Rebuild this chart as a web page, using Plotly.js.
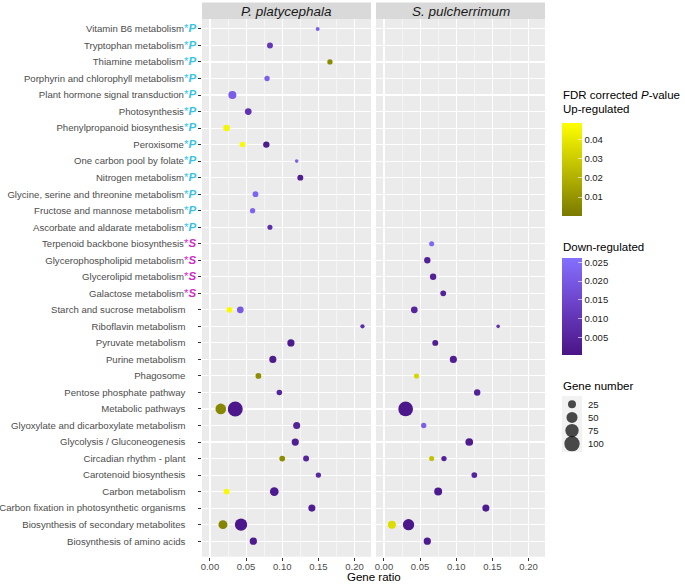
<!DOCTYPE html>
<html>
<head>
<meta charset="utf-8">
<script src="https://cdn.plot.ly/plotly-3.0.1.min.js"></script>
<style>html,body{margin:0;padding:0;background:#fff;}#chart{width:685px;height:584px;}</style>
</head>
<body>
<div id="chart"></div>
<script>
// Categories, top to bottom as drawn
const categories = [
  'Vitamin B6 metabolism','Tryptophan metabolism','Thiamine metabolism',
  'Porphyrin and chlorophyll metabolism','Plant hormone signal transduction',
  'Photosynthesis','Phenylpropanoid biosynthesis','Peroxisome',
  'One carbon pool by folate','Nitrogen metabolism',
  'Glycine, serine and threonine metabolism','Fructose and mannose metabolism',
  'Ascorbate and aldarate metabolism','Terpenoid backbone biosynthesis',
  'Glycerophospholipid metabolism','Glycerolipid metabolism','Galactose metabolism',
  'Starch and sucrose metabolism','Riboflavin metabolism','Pyruvate metabolism',
  'Purine metabolism','Phagosome','Pentose phosphate pathway','Metabolic pathways',
  'Glyoxylate and dicarboxylate metabolism','Glycolysis / Gluconeogenesis',
  'Circadian rhythm - plant','Carotenoid biosynthesis','Carbon metabolism',
  'Carbon fixation in photosynthetic organisms',
  'Biosynthesis of secondary metabolites','Biosynthesis of amino acids'
];
const categoryTag = ['P','P','P','P','P','P','P','P','P','P','P','P','P','S','S','S','S',
  '','','','','','','','','','','','','','',''];

const panelTitles = ['P. platycephala','S. pulcherrimum'];
const xTickVals = [0, 0.05, 0.10, 0.15, 0.20];
const xTickText = ['0.00','0.05','0.10','0.15','0.20'];

// P. platycephala, up-regulated
const ppUpTerm = ['Thiamine metabolism','Phenylpropanoid biosynthesis','Peroxisome',
  'Starch and sucrose metabolism','Phagosome','Metabolic pathways',
  'Circadian rhythm - plant','Carbon metabolism','Biosynthesis of secondary metabolites'];
const ppUpRatio = [0.166,0.023,0.045,0.027,0.067,0.015,0.100,0.023,0.018];
const ppUpGenes = [10,16,11,12,12,47,12,12,32];
const ppUpP = [0.006,0.045,0.046,0.047,0.007,0.005,0.007,0.046,0.004];

// P. platycephala, down-regulated
const ppDownTerm = ['Vitamin B6 metabolism','Tryptophan metabolism',
  'Porphyrin and chlorophyll metabolism','Plant hormone signal transduction',
  'Photosynthesis','Peroxisome','One carbon pool by folate','Nitrogen metabolism',
  'Glycine, serine and threonine metabolism','Fructose and mannose metabolism',
  'Ascorbate and aldarate metabolism','Starch and sucrose metabolism',
  'Riboflavin metabolism','Pyruvate metabolism','Purine metabolism',
  'Pentose phosphate pathway','Metabolic pathways',
  'Glyoxylate and dicarboxylate metabolism','Glycolysis / Gluconeogenesis',
  'Circadian rhythm - plant','Carotenoid biosynthesis','Carbon metabolism',
  'Carbon fixation in photosynthetic organisms',
  'Biosynthesis of secondary metabolites','Biosynthesis of amino acids'];
const ppDownRatio = [0.149,0.083,0.079,0.031,0.053,0.078,0.120,0.125,0.063,0.059,0.083,
  0.042,0.211,0.112,0.087,0.096,0.035,0.120,0.118,0.133,0.150,0.089,0.141,0.043,0.060];
const ppDownGenes = [5,13,10,25,17,15,4,13,12,10,9,17,6,20,19,11,96,19,20,13,10,30,19,63,20];
const ppDownP = [0.021,0.011,0.022,0.021,0.009,0.002,0.022,0.003,0.023,0.023,0.008,
  0.020,0.008,0.002,0.002,0.005,0.001,0.004,0.003,0.005,0.006,0.002,0.003,0.001,0.002];

// S. pulcherrimum, up-regulated
const spUpTerm = ['Phagosome','Circadian rhythm - plant','Biosynthesis of secondary metabolites'];
const spUpRatio = [0.045,0.066,0.011];
const spUpGenes = [9,9,25];
const spUpP = [0.033,0.026,0.036];

// S. pulcherrimum, down-regulated
const spDownTerm = ['Terpenoid backbone biosynthesis','Glycerophospholipid metabolism',
  'Glycerolipid metabolism','Galactose metabolism','Starch and sucrose metabolism',
  'Riboflavin metabolism','Pyruvate metabolism','Purine metabolism',
  'Pentose phosphate pathway','Metabolic pathways',
  'Glyoxylate and dicarboxylate metabolism','Glycolysis / Gluconeogenesis',
  'Circadian rhythm - plant','Carotenoid biosynthesis','Carbon metabolism',
  'Carbon fixation in photosynthetic organisms',
  'Biosynthesis of secondary metabolites','Biosynthesis of amino acids'];
const spDownRatio = [0.066,0.060,0.068,0.082,0.042,0.158,0.071,0.096,0.129,0.030,
  0.055,0.118,0.083,0.125,0.075,0.141,0.034,0.060];
const spDownGenes = [9,15,15,12,17,4,13,19,15,92,10,23,10,12,25,19,53,20];
const spDownP = [0.024,0.004,0.004,0.004,0.005,0.009,0.003,0.003,0.004,0.001,
  0.022,0.002,0.004,0.005,0.002,0.002,0.001,0.002];

// Size key
const keyGenes = [25,50,75,100];
const keyLabels = ['25','50','75','100'];

// ---------- helpers ----------
const W = 685, H = 584;
const px = v => v / W;
const py = v => 1 - v / H;
function sizeScale(n){ return 0.7 + 1.46 * Math.sqrt(n); }

const TAG_COLOR = {P:'#35C3E9', S:'#CC2FC4'};
const tickText = categories.map((c,i) => {
  const t = categoryTag[i];
  if (t) return c + '<span style="color:' + TAG_COLOR[t] + ';font-size:11.5px">*<b><i>' + t + '</i></b></span>';
  return c + '\u00A0\u00A0\u00A0\u00A0';
});
const catOrder = categories.slice().reverse();

function pointTrace(terms, ratio, genes, pv, xa, ya, cax){
  return {
    type:'scatter', mode:'markers', x:ratio, y:terms, xaxis:xa, yaxis:ya,
    marker:{size:genes.map(sizeScale), color:pv, coloraxis:cax, line:{width:0}, opacity:1},
    showlegend:false, hoverinfo:'x+y'
  };
}

const traces = [
  pointTrace(ppDownTerm, ppDownRatio, ppDownGenes, ppDownP, 'x','y','coloraxis2'),
  pointTrace(ppUpTerm, ppUpRatio, ppUpGenes, ppUpP, 'x','y','coloraxis'),
  pointTrace(spDownTerm, spDownRatio, spDownGenes, spDownP, 'x2','y2','coloraxis2'),
  pointTrace(spUpTerm, spUpRatio, spUpGenes, spUpP, 'x2','y2','coloraxis'),
  { type:'scatter', mode:'markers', xaxis:'x3', yaxis:'y3',
    x:keyGenes.map(()=>0.5), y:keyGenes.map((g,i)=>keyGenes.length - i),
    marker:{size:keyGenes.map(sizeScale), color:'#000', line:{width:0}},
    showlegend:false, hoverinfo:'skip' }
];

const font = 'Liberation Sans, Arial, Helvetica, sans-serif';
const xRange = [-0.011, 0.2228];
const yRange = [-0.94, 31.6];
const yDom = [1 - 556.7/H, 1 - 19/H];

function xAxis(domain){
  return {
    domain:domain, range:xRange, tickvals:xTickVals, ticktext:xTickText,
    showgrid:true, gridcolor:'#FFFFFF', gridwidth:1.1, zeroline:false,
    minor:{dtick:0.025, tick0:0, showgrid:true, gridcolor:'#FFFFFF', gridwidth:0.5, ticks:''},
    ticks:'outside', ticklen:3, tickcolor:'#333333', tickwidth:1, ticklabelstandoff:-2,
    tickfont:{family:font, size:9.5, color:'#4D4D4D'}, showline:false,
    fixedrange:true, automargin:false
  };
}
function yAxis(showLabels){
  return {
    domain:yDom, type:'category', categoryorder:'array', categoryarray:catOrder,
    range:yRange, tickvals:categories, ticktext:tickText, showticklabels:showLabels,
    showgrid:true, gridcolor:'#FFFFFF', gridwidth:1.1, zeroline:false,
    ticks: showLabels ? 'outside' : '', ticklen:3, tickcolor:'#333333', tickwidth:1,
    tickfont:{family:font, size:9.6, color:'#4D4D4D'}, fixedrange:true, automargin:false
  };
}

const cbFont = {family:font, size:9.5, color:'#1A1A1A'};
const layout = {
  width:W, height:H, margin:{l:0,r:0,t:0,b:0},
  paper_bgcolor:'#FFFFFF', plot_bgcolor:'#EBEBEB',
  font:{family:font, color:'#1A1A1A'},
  xaxis: xAxis([px(202), px(371)]),
  xaxis2: xAxis([px(376), px(545)]),
  yaxis: yAxis(true),
  yaxis2: Object.assign(yAxis(false), {matches:'y'}),
  xaxis3:{domain:[px(562), px(582)], range:[0,1], visible:false, fixedrange:true},
  yaxis3:{domain:[py(452), py(396)], range:[0.37, 4.63], side:'right', anchor:'x3',
    tickvals:[4,3,2,1], ticktext:keyLabels, showgrid:false, zeroline:false, ticks:'',
    showline:false, ticklabelstandoff:5, tickfont:cbFont, fixedrange:true,
    automargin:false},
  coloraxis:{
    cmin:0, cmax:0.0483,
    colorscale:[[0,'#7A7A00'],[1,'#FFFF00']],
    colorbar:{x:px(562), xanchor:'left', xref:'paper', y:py(123.3), yanchor:'top',
      len:93.4, lenmode:'pixels', thickness:20, thicknessmode:'pixels',
      xpad:0, ypad:0, outlinewidth:0, tickvals:[0.01,0.02,0.03,0.04],
      ticktext:['0.01','0.02','0.03','0.04'], ticks:'inside', ticklen:4,
      tickcolor:'rgba(255,255,255,0.6)', tickfont:cbFont}
  },
  coloraxis2:{
    cmin:0.0002, cmax:0.0261,
    colorscale:[[0,'#4A1486'],[0.5,'#6A3FC4'],[1,'#8470FF']],
    colorbar:{x:px(562), xanchor:'left', xref:'paper', y:py(258.3), yanchor:'top',
      len:96.7, lenmode:'pixels', thickness:20, thicknessmode:'pixels',
      xpad:0, ypad:0, outlinewidth:0, tickvals:[0.005,0.010,0.015,0.020,0.025],
      ticktext:['0.005','0.010','0.015','0.020','0.025'], ticks:'inside', ticklen:4,
      tickcolor:'rgba(255,255,255,0.6)', tickfont:cbFont}
  },
  shapes:[
    {type:'rect', xref:'paper', yref:'paper', x0:px(202), x1:px(371), y0:py(19), y1:py(2.5),
      fillcolor:'#D9D9D9', line:{width:0}},
    {type:'rect', xref:'paper', yref:'paper', x0:px(376), x1:px(545), y0:py(19), y1:py(2.5),
      fillcolor:'#D9D9D9', line:{width:0}},
    {type:'rect', xref:'x3 domain', yref:'y3 domain', x0:0, x1:1, y0:0, y1:1,
      fillcolor:'#F2F2F2', line:{width:0}, layer:'below'}
  ],
  annotations:[
    {text:'<i>' + panelTitles[0] + '</i>', xref:'paper', yref:'paper', x:px(286.5), y:py(11),
      showarrow:false, xanchor:'center', yanchor:'middle', font:{family:font, size:13.5, color:'#1A1A1A'}},
    {text:'<i>' + panelTitles[1] + '</i>', xref:'paper', yref:'paper', x:px(460.5), y:py(11),
      showarrow:false, xanchor:'center', yanchor:'middle', font:{family:font, size:13.5, color:'#1A1A1A'}},
    {text:'Gene ratio', xref:'paper', yref:'paper', x:px(373.5), y:0,
      showarrow:false, xanchor:'center', yanchor:'bottom', borderpad:0,
      font:{family:font, size:11.5, color:'#000'}},
    {text:'FDR corrected <i>P</i>-value', xref:'paper', yref:'paper', x:px(561), y:py(95),
      showarrow:false, xanchor:'left', yanchor:'middle', font:{family:font, size:11.5, color:'#000'}},
    {text:'Up-regulated', xref:'paper', yref:'paper', x:px(561), y:py(109),
      showarrow:false, xanchor:'left', yanchor:'middle', font:{family:font, size:11.5, color:'#000'}},
    {text:'Down-regulated', xref:'paper', yref:'paper', x:px(561), y:py(247),
      showarrow:false, xanchor:'left', yanchor:'middle', font:{family:font, size:11.5, color:'#000'}},
    {text:'Gene number', xref:'paper', yref:'paper', x:px(561), y:py(386),
      showarrow:false, xanchor:'left', yanchor:'middle', font:{family:font, size:11.5, color:'#000'}}
  ]
};

Plotly.newPlot('chart', traces, layout, {staticPlot:true, displayModeBar:false});
</script>
</body>
</html>
